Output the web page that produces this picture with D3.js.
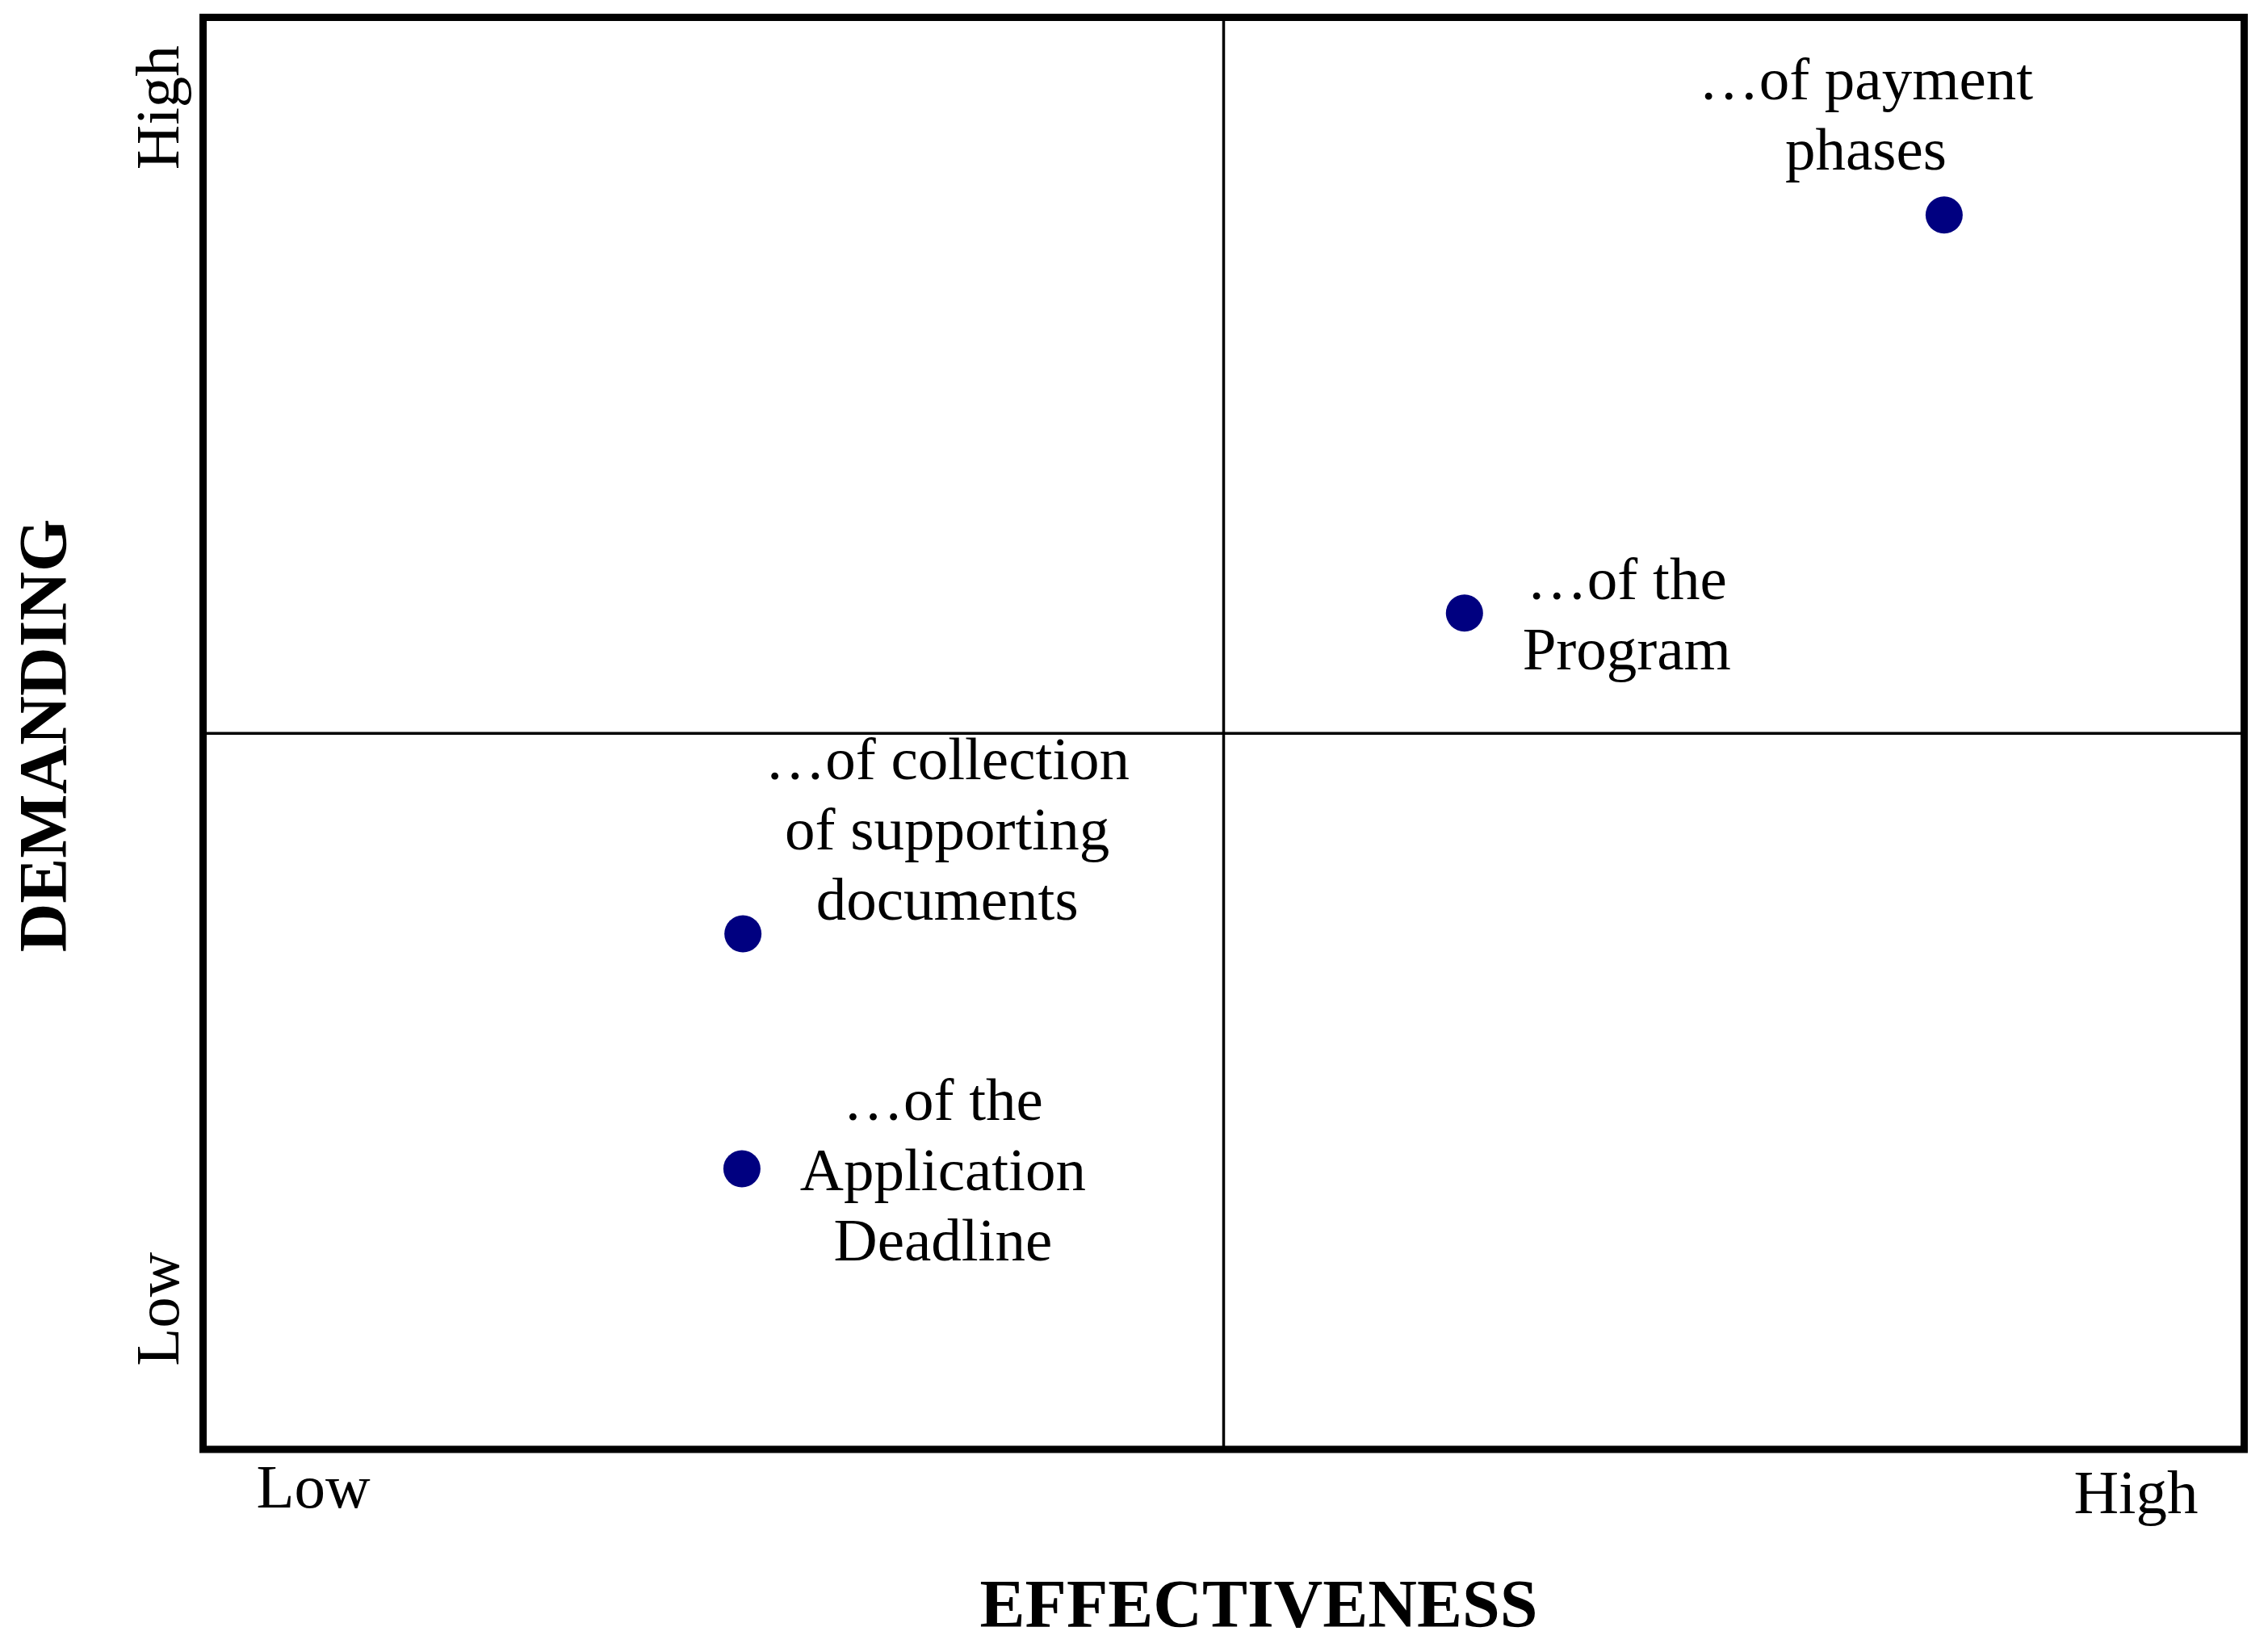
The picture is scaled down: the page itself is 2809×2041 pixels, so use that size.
<!DOCTYPE html>
<html>
<head>
<meta charset="utf-8">
<script src="https://cdn.jsdelivr.net/npm/d3@7"></script>
<style>
  body { margin: 0; background: #fff; }
  svg { display: block; font-family: "Liberation Serif", "Times New Roman", serif; }
</style>
</head>
<body>
<svg id="chart"></svg>
<script>
// Data (0..10 scale on both axes)
const items = [
  ["…of payment", "phases"],
  ["…of the", "Program"],
  ["…of collection", "of supporting", "documents"],
  ["…of the", "Application", "Deadline"]
];
const effectiveness = [8.53, 6.18, 2.645, 2.64];
const demanding = [8.62, 5.84, 3.60, 1.96];

const xTickLabels = ["Low", "High"];
const xTickValues = [0.54, 9.47];
const yTickLabels = ["Low", "High"];
const yTickValues = [0.98, 9.37];

// Label placement relative to each dot, in px
const labelDx = [-97, 201, 253, 249];
const labelDy = [-143, -17, -192, -60];
const lineGap = 87;

const width = 2809, height = 2041;
const svg = d3.select("#chart").attr("width", width).attr("height", height);

const x = d3.scaleLinear().domain([0, 10]).range([251.5, 2779.5]);
const y = d3.scaleLinear().domain([0, 10]).range([1795, 21.5]);

// Quadrant lines
svg.append("line")
  .attr("x1", x(5)).attr("x2", x(5))
  .attr("y1", y(10)).attr("y2", y(0))
  .attr("stroke", "#000").attr("stroke-width", 3.5);
svg.append("line")
  .attr("x1", x(0)).attr("x2", x(10))
  .attr("y1", y(5)).attr("y2", y(5))
  .attr("stroke", "#000").attr("stroke-width", 3.5);

// Frame
svg.append("rect")
  .attr("x", x(0)).attr("y", y(10))
  .attr("width", x(10) - x(0)).attr("height", y(0) - y(10))
  .attr("fill", "none").attr("stroke", "#000").attr("stroke-width", 9);

// Dots
svg.selectAll(".dot")
  .data(items)
  .enter()
  .append("circle")
  .attr("class", "dot")
  .attr("cx", (d, i) => x(effectiveness[i]))
  .attr("cy", (d, i) => y(demanding[i]))
  .attr("r", 23)
  .attr("fill", "#000080");

// Labels
const labels = svg.selectAll(".label")
  .data(items)
  .enter()
  .append("text")
  .attr("class", "label")
  .attr("text-anchor", "middle")
  .attr("font-size", 75)
  .attr("fill", "#000");

labels.each(function(d, i) {
  const cx = x(effectiveness[i]) + labelDx[i];
  const cy = y(demanding[i]) + labelDy[i];
  d3.select(this).selectAll("tspan")
    .data(d)
    .enter()
    .append("tspan")
    .attr("x", cx)
    .attr("y", (t, j) => cy + j * lineGap)
    .text(t => t);
});

// X tick labels
const xBase = [1867, 1874];
svg.selectAll(".xtick")
  .data(xTickLabels)
  .enter()
  .append("text")
  .attr("class", "xtick")
  .attr("x", (d, i) => x(xTickValues[i]))
  .attr("y", (d, i) => xBase[i])
  .attr("text-anchor", "middle")
  .attr("font-size", 77)
  .text(d => d);

// Y tick labels (rotated)
svg.selectAll(".ytick")
  .data(yTickLabels)
  .enter()
  .append("text")
  .attr("class", "ytick")
  .attr("transform", (d, i) => `translate(221,${y(yTickValues[i])}) rotate(-90)`)
  .attr("text-anchor", "middle")
  .attr("font-size", 77)
  .text(d => d);

// Axis titles
svg.append("text")
  .attr("x", 1559).attr("y", 2015)
  .attr("text-anchor", "middle")
  .attr("font-size", 84).attr("font-weight", "bold")
  .text("EFFECTIVENESS");

svg.append("text")
  .attr("transform", "translate(82,911) rotate(-90)")
  .attr("text-anchor", "middle")
  .attr("font-size", 84).attr("font-weight", "bold")
  .text("DEMANDING");
</script>
</body>
</html>
